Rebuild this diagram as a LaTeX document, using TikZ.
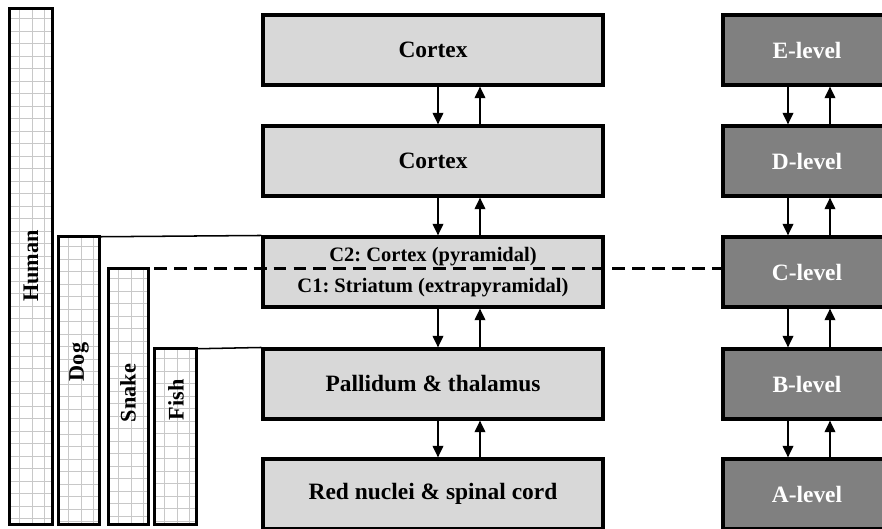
\documentclass[tikz,border=0pt]{standalone}
\usepackage{fontspec}
\setmainfont{Liberation Serif}
\usepackage{tikz}
\usetikzlibrary{positioning, arrows.meta}
\definecolor{boxgray}{RGB}{216,216,216}
\definecolor{levelgray}{RGB}{128,128,128}
\definecolor{gridgray}{RGB}{200,200,200}
\frenchspacing

\begin{document}
\begin{tikzpicture}[x=0.03cm,y=-0.03cm,
  region/.style={draw, line width=2.6pt, fill=boxgray, minimum width=10.2cm, minimum height=2.1cm, align=center, font=\bfseries\fontsize{20}{24}\selectfont},
  level/.style={draw, line width=2.6pt, fill=levelgray, minimum width=5.04cm, minimum height=2.1cm, text=white, font=\bfseries\fontsize{20}{24}\selectfont},
  bar/.style={fill=white, inner sep=0pt},
  barframe/.style={line width=2.6pt},
  gridline/.style={draw=gridgray, line width=1.2pt, step=0.375cm},
  tag/.style={rotate=90, inner sep=1pt, font=\bfseries\fontsize{19}{22}\selectfont},
  arr/.style={-{Triangle[length=10pt, width=9pt]}, line width=1.9pt},
  link/.style={line width=1.3pt},
  split/.style={line width=2.6pt, dash pattern=on 11pt off 6pt, dash phase=-5pt}]
  \useasboundingbox (0,0) rectangle (882,529);

  % species bars
  \node[bar, minimum width=1.26cm, minimum height=15.45cm] (human) at (31,266.5) {};
  \node[bar, minimum width=1.2cm, minimum height=8.61cm] (dog) at (79,380.5) {};
  \node[bar, minimum width=1.17cm, minimum height=7.65cm] (snake) at (128.5,396.5) {};
  \node[bar, minimum width=1.23cm, minimum height=5.25cm] (fish) at (175.5,436.5) {};
  \foreach \b in {human, dog, snake, fish} {
    \begin{scope}
      \clip (\b.north west) rectangle (\b.south east);
      \draw[gridline, shift={(\b.north west)}, shift={(0.3cm,-0.3cm)}] (-0.6cm,0.6cm) grid (2cm,-16cm);
    \end{scope}
    \draw[barframe] (\b.north west) rectangle (\b.south east);
  }
  \node[tag] (humantag) at (31,266) {Human};
  \node[tag] (dogtag) at (79,362) {Dog};
  \node[tag] (snaketag) at (128,393) {Snake};
  \node[tag] (fishtag) at (176,400) {Fish};

  % brain regions
  \node[region] (cortexE) at (433,50) {Cortex};
  \node[region] (cortexD) at (433,161) {Cortex};
  \node[region, font=\bfseries\fontsize{17.5}{26.5}\selectfont] (cortexC) at (433,272) {C2: Cortex (pyramidal)\\C1: Striatum (extrapyramidal)};
  \node[region] (pallidum) at (433,384) {Pallidum \& thalamus};
  \node[region] (rednuc) at (433,494) {Red nuclei \& spinal cord};

  % levels
  \node[level] (levelE) at (807,50) {E-level};
  \node[level] (levelD) at (807,161) {D-level};
  \node[level] (levelC) at (807,272) {C-level};
  \node[level] (levelB) at (807,384) {B-level};
  \node[level] (levelA) at (807,494) {A-level};

  \coordinate (dn) at (438,0);
  \coordinate (up) at (480,0);
  \coordinate (dnR) at (788,0);
  \coordinate (upR) at (830,0);

  \draw[arr] (cortexE.south -| dn) -- (cortexD.north -| dn);
  \draw[arr] (cortexD.north -| up) -- (cortexE.south -| up);
  \draw[arr] (cortexD.south -| dn) -- (cortexC.north -| dn);
  \draw[arr] (cortexC.north -| up) -- (cortexD.south -| up);
  \draw[arr] (cortexC.south -| dn) -- (pallidum.north -| dn);
  \draw[arr] (pallidum.north -| up) -- (cortexC.south -| up);
  \draw[arr] (pallidum.south -| dn) -- (rednuc.north -| dn);
  \draw[arr] (rednuc.north -| up) -- (pallidum.south -| up);

  \draw[arr] (levelE.south -| dnR) -- (levelD.north -| dnR);
  \draw[arr] (levelD.north -| upR) -- (levelE.south -| upR);
  \draw[arr] (levelD.south -| dnR) -- (levelC.north -| dnR);
  \draw[arr] (levelC.north -| upR) -- (levelD.south -| upR);
  \draw[arr] (levelC.south -| dnR) -- (levelB.north -| dnR);
  \draw[arr] (levelB.north -| upR) -- (levelC.south -| upR);
  \draw[arr] (levelB.south -| dnR) -- (levelA.north -| dnR);
  \draw[arr] (levelA.north -| upR) -- (levelB.south -| upR);

  % links from bars
  \draw[link] (dog.north east) -- (cortexC.north west);
  \draw[link] (fish.north east) -- (pallidum.north west);
  \draw[split] (snake.north east) -- (levelC.west |- snake.north east);
\end{tikzpicture}
\end{document}
